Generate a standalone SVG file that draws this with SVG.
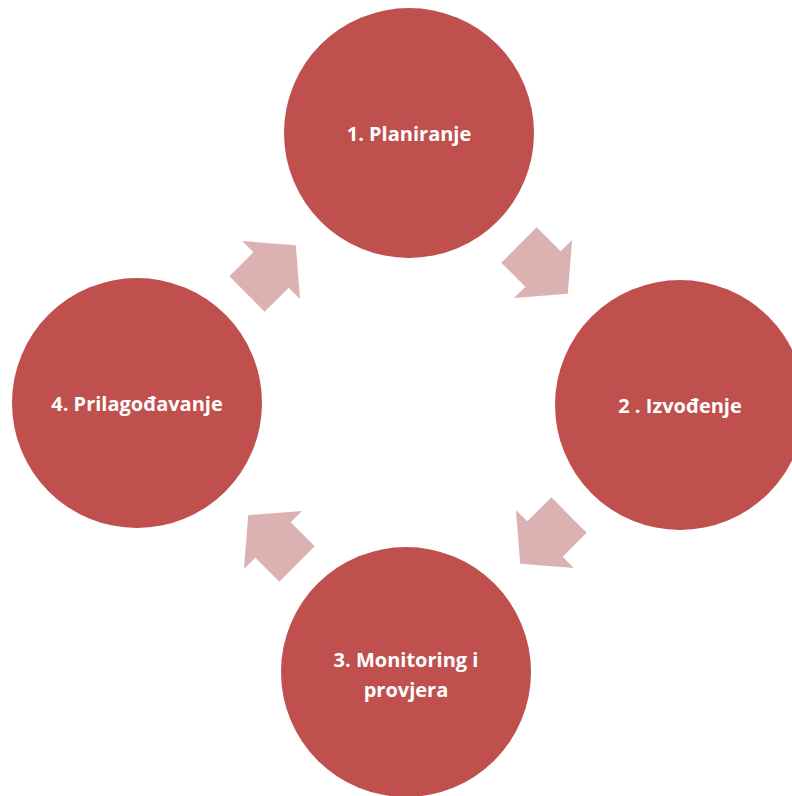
<svg xmlns="http://www.w3.org/2000/svg" width="792" height="796" viewBox="0 0 792 796">
<style>
.node circle{fill:#C0504D}
.node text{fill:#FFFFFF;font-family:"Open Sans","Liberation Sans",sans-serif;font-weight:bold;font-size:20px;text-anchor:middle;dominant-baseline:central}
.arr{fill:#DBB1B1}
</style>
<defs>
<path id="blk" d="M0,-25 L34,-25 L34,-41 L69,0 L34,41 L34,25 L0,25 Z"/>
</defs>
<rect width="792" height="796" fill="#FFFFFF"/>
<g id="connectors">
<use href="#blk" class="arr" transform="translate(519,245) rotate(45)"/>
<use href="#blk" class="arr" transform="translate(569,515) rotate(135)"/>
<use href="#blk" class="arr" transform="translate(297,564) rotate(225)"/>
<use href="#blk" class="arr" transform="translate(247,294) rotate(-45)"/>
</g>
<g id="n1" class="node"><circle cx="409" cy="133" r="125"/><text x="409" y="133">1. Planiranje</text></g>
<g id="n2" class="node"><circle cx="680" cy="405" r="125"/><text x="680" y="405">2 . Izvođenje</text></g>
<g id="n3" class="node"><circle cx="406" cy="672" r="125"/><text x="406" y="659">3. Monitoring i</text><text x="406" y="689">provjera</text></g>
<g id="n4" class="node"><circle cx="137" cy="403" r="125"/><text x="137" y="403">4. Prilagođavanje</text></g>
</svg>
